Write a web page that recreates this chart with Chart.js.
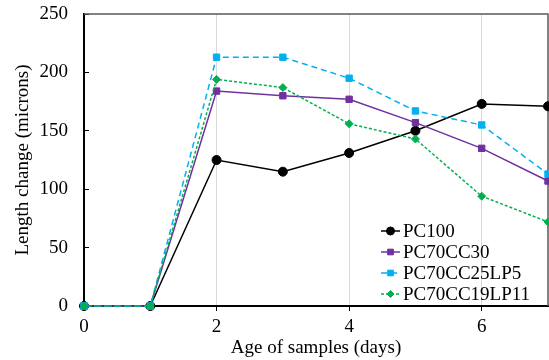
<!DOCTYPE html>
<html>
<head>
<meta charset="utf-8">
<script src="https://cdn.jsdelivr.net/npm/chart.js@4/dist/chart.umd.min.js"></script>
<style>
  body { margin: 0; background: #fff; }
  #wrap { width: 549px; height: 360px; }
</style>
</head>
<body>
<div id="wrap"><canvas id="lineChart"></canvas></div>
<script>
var days = [0, 1, 2, 3, 4, 5, 6, 7];
var pc100 = [0, 0, 125, 115, 131, 150, 173, 171];
var pc70cc30 = [0, 0, 184, 180, 177, 157, 135, 107];
var pc70cc25lp5 = [0, 0, 213, 213, 195, 167, 155, 113];
var pc70cc19lp11 = [0, 0, 194, 187, 156, 143, 94, 72];
var xTicks = [0, 2, 4, 6];
var yTicks = [0, 50, 100, 150, 200, 250];

function pts(vals) {
    return vals.map(function (v, i) { return { x: days[i], y: v }; });
}

var font = "'Liberation Serif', 'Times New Roman', serif";
var fsize = 19;

// legend drawn inside the plot, bottom right
var boxLegend = {
    id: 'boxLegend',
    afterDraw: function (chart) {
        var c = chart.ctx;
        var sets = chart.data.datasets;
        c.save();
        c.font = fsize + 'px ' + font;
        c.textBaseline = 'middle';
        for (var i = 0; i < sets.length; i++) {
            var ds = sets[i];
            var y = 231 + i * 21;
            var x0 = 381, x1 = 400;
            c.strokeStyle = ds.borderColor;
            c.lineWidth = ds.borderWidth;
            c.setLineDash(ds.borderDash || []);
            c.beginPath();
            c.moveTo(x0, y);
            c.lineTo(x1, y);
            c.stroke();
            c.setLineDash([]);
            c.fillStyle = ds.pointBackgroundColor;
            c.strokeStyle = ds.pointBorderColor;
            c.lineWidth = 1;
            Chart.helpers.drawPoint(c, {
                pointStyle: ds.pointStyle,
                radius: ds.pointRadius - 0.5,
                borderWidth: 1
            }, (x0 + x1) / 2, y);
            c.fillStyle = '#000';
            c.fillText(ds.label, 403, y + 1);
        }
        c.restore();
    },
    beforeDatasetsDraw: function (chart) {
        var a = chart.chartArea;
        var c = chart.ctx;
        c.save();
        c.strokeStyle = '#595959';
        c.lineWidth = 1.5;
        c.beginPath();
        c.moveTo(a.left, a.top);
        c.lineTo(a.right, a.top);
        c.lineTo(a.right, a.bottom);
        c.stroke();
        c.restore();
    }
};

function series(label, vals, color, style, radius, dash, order) {
    return {
        label: label,
        data: pts(vals),
        borderColor: color,
        backgroundColor: color,
        pointBackgroundColor: color,
        pointBorderColor: color,
        pointBorderWidth: 1,
        borderWidth: 1.5,
        borderDash: dash,
        pointStyle: style,
        pointRadius: radius,
        pointHoverRadius: radius,
        tension: 0,
        clip: false,
        order: order
    };
}

var ctx = document.getElementById('lineChart').getContext('2d');
var myChart = new Chart(ctx, {
    type: 'line',
    data: {
        datasets: [
            series('PC100', pc100, '#000000', 'circle', 4.5, [], 3),
            series('PC70CC30', pc70cc30, '#7030A0', 'rect', 4.5, [], 2),
            series('PC70CC25LP5', pc70cc25lp5, '#00B0F0', 'rect', 4.5, [6, 4], 1),
            series('PC70CC19LP11', pc70cc19lp11, '#00B050', 'rectRot', 4, [3, 2], 0)
        ]
    },
    options: {
        responsive: true,
        maintainAspectRatio: false,
        animation: false,
        layout: { autoPadding: false, padding: { top: 14, right: 1, left: 0, bottom: 0 } },
        plugins: {
            legend: { display: false },
            tooltip: { enabled: false }
        },
        scales: {
            x: {
                type: 'linear',
                min: 0,
                max: 7,
                afterBuildTicks: function (s) {
                    s.ticks = xTicks.map(function (v) { return { value: v }; });
                },
                afterFit: function (s) {
                    s.height = 54;
                    s.paddingLeft = 0;
                    s.paddingRight = 0;
                },
                grid: {
                    color: function (c) { return c.tick.value === 0 ? 'rgba(0,0,0,0)' : '#d9d9d9'; },
                    lineWidth: 1,
                    drawTicks: true,
                    tickLength: 5,
                    tickColor: '#000'
                },
                border: { color: '#000', width: 2 },
                ticks: {
                    color: '#000',
                    font: { family: font, size: fsize },
                    padding: 5
                },
                title: {
                    display: true,
                    text: 'Age of samples (days)',
                    color: '#000',
                    font: { family: font, size: fsize },
                    padding: { top: 0, bottom: 1 }
                }
            },
            y: {
                min: 0,
                max: 250,
                afterBuildTicks: function (s) {
                    s.ticks = yTicks.map(function (v) { return { value: v }; });
                },
                afterFit: function (s) {
                    s.width = 84;
                    s.paddingTop = 0;
                    s.paddingBottom = 0;
                },
                grid: {
                    display: true,
                    drawOnChartArea: false,
                    drawTicks: true,
                    tickLength: -5,
                    tickColor: '#000'
                },
                border: { color: '#000', width: 2 },
                ticks: {
                    color: '#000',
                    font: { family: font, size: fsize },
                    padding: 21
                },
                title: {
                    display: true,
                    text: 'Length change (microns)',
                    color: '#000',
                    font: { family: font, size: fsize },
                    padding: { top: 12, bottom: 4 }
                }
            }
        }
    },
    plugins: [boxLegend]
});
</script>
</body>
</html>
